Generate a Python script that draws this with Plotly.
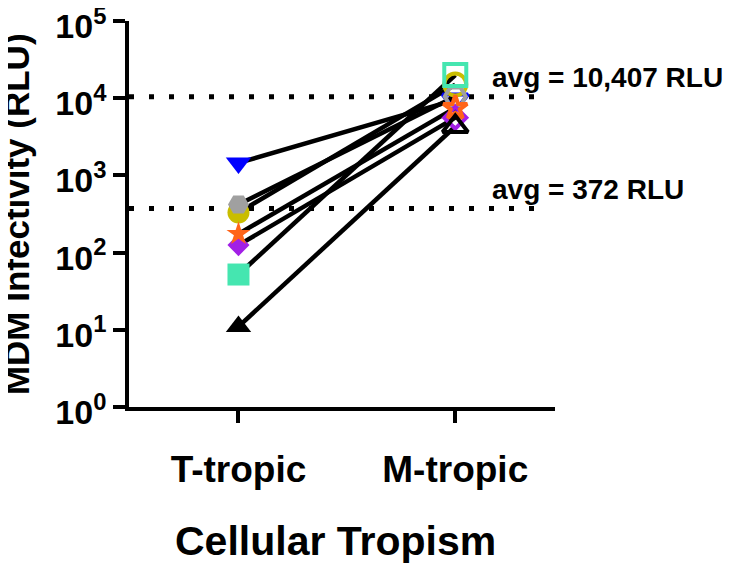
import math
import plotly.graph_objects as go

# data
categories = ["T-tropic", "M-tropic"]
series_names = ["blue", "yellow", "grey", "purple", "orange", "teal", "black"]
t_tropic = [1450, 330, 420, 125, 175, 52, 11]
m_tropic = [9500, 15000, 10500, 5600, 7500, 20000, 4300]
averages = [372, 10407]
y_tickvals = [1, 10, 100, 1000, 10000, 100000]
y_ticktext = ["10<sup>0</sup>", "10<sup>1</sup>", "10<sup>2</sup>", "10<sup>3</sup>",
              "10<sup>4</sup>", "10<sup>5</sup>"]

# styling
colors = {"blue": "#0000ff", "yellow": "#c9bd00", "grey": "#a0a0a0", "purple": "#a21fe6",
          "orange": "#ff6418", "teal": "#45e6b0", "black": "#000000"}
symbols = {"blue": "triangle-down", "yellow": "circle", "grey": "hexagon2", "purple": "diamond",
           "orange": "star", "teal": "square", "black": "triangle-up"}
sizes = {"triangle-down": 22, "circle": 22, "hexagon2": 21, "diamond": 17,
         "star": 18, "square": 22, "triangle-up": 22}

font = "Liberation Sans, Arial, Helvetica, sans-serif"
xpos = list(range(len(categories)))
x_range = [-0.505, 1.46]

fig = go.Figure()

# average reference lines (dotted)
for a in averages:
    fig.add_trace(go.Scatter(x=[x_range[0], 1.425], y=[a, a], mode="lines",
                             line=dict(color="black", width=5, dash="5px,15px"),
                             showlegend=False, hoverinfo="skip"))

# connecting lines first so every marker sits on top
for i, name in enumerate(series_names):
    fig.add_trace(go.Scatter(x=xpos, y=[t_tropic[i], m_tropic[i]], mode="lines",
                             line=dict(color="black", width=4.5),
                             showlegend=False, hoverinfo="skip"))

for i, name in enumerate(series_names):
    sym = symbols[name]
    fig.add_trace(go.Scatter(
        x=xpos, y=[t_tropic[i], m_tropic[i]], mode="markers", name=name,
        marker=dict(symbol=[sym, sym + "-open"], color=colors[name], size=sizes[sym],
                    line=dict(width=[0, 4])),
        showlegend=False, cliponaxis=False))

for a in averages:
    fig.add_annotation(x=0.848, xref="paper", y=math.log10(a), yref="y", yshift=19,
                       text=f"avg = {a:,} RLU", showarrow=False, xanchor="left",
                       yanchor="middle", font=dict(family=font, size=28, color="black",
                                                   weight="bold"))

fig.add_annotation(x=0.484, xref="paper", y=-0.348, yref="paper", text="Cellular Tropism",
                   showarrow=False, xanchor="center", yanchor="middle",
                   font=dict(family=font, size=41, color="black", weight="bold"))
fig.add_annotation(x=-0.265, xref="paper", y=0.5, yref="paper", text="MDM Infectivity (RLU)",
                   showarrow=False, textangle=-90, xanchor="center", yanchor="middle",
                   font=dict(family=font, size=35, color="black", weight="bold"))

fig.update_layout(
    width=750, height=581,
    margin=dict(l=121, r=203, t=13, b=182, autoexpand=False),
    plot_bgcolor="white", paper_bgcolor="white",
    xaxis=dict(range=x_range, tickvals=xpos, ticktext=categories, automargin=False,
               showline=True, linecolor="black", linewidth=3.5,
               ticks="outside", ticklen=12, tickwidth=3.5, tickcolor="black",
               showgrid=False, zeroline=False, ticklabelstandoff=15,
               tickfont=dict(family=font, size=37, color="black", weight="bold")),
    yaxis=dict(type="log", range=[-0.0001, 5.0001], tickvals=y_tickvals, ticktext=y_ticktext,
               automargin=False,
               showline=True, linecolor="black", linewidth=3.5,
               ticks="outside", ticklen=12, tickwidth=3.5, tickcolor="black",
               showgrid=False, zeroline=False, ticklabeloverflow="allow",
               ticklabelshift=5,
               tickfont=dict(family=font, size=34, color="black", weight="bold")),
)

fig.write_html("out.html")
